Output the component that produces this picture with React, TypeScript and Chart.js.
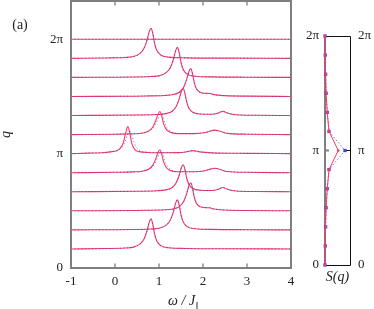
import { useEffect, useRef } from 'react';
import { Chart, registerables } from 'chart.js';

Chart.register(...registerables);

const PI = Math.PI;
const FONT = '"Liberation Serif", "Times New Roman", serif';

// ---------- data ----------
const omegaTicks = [-1, 0, 1, 2, 3, 4];
const qTickValues = [0, PI, 2 * PI];
const qTickLabels = ['0', 'π', '2π'];
// q = step * π/6
const qSteps = [0, 1, 2, 3, 4, 5, 6, 7, 8, 9, 10, 11, 12];

// spectra: [ω, intensity]
const specQ1 = [[-1, 0], [-0.2, 0.4], [0.22, 0.9], [0.42, 1.8], [0.57, 5], [0.66, 10], [0.73, 18.5], [0.78, 27], [0.82, 30], [0.86, 24.5], [0.9, 15], [0.95, 8], [1.04, 3.3], [1.22, 1.2], [1.6, 0.5], [2.5, 0.2], [4, 0]];
const specQ2 = [[-1, 0], [0.4, 0.4], [0.82, 0.9], [1.02, 1.8], [1.17, 5], [1.26, 10], [1.33, 18.5], [1.38, 27], [1.42, 30], [1.46, 24.5], [1.5, 15], [1.55, 8], [1.64, 3.3], [1.82, 1.2], [2.2, 0.5], [3, 0.2], [4, 0]];
const specQ3 = [[-1, 0], [0.7, 0.5], [1.12, 1], [1.32, 1.9], [1.47, 4.5], [1.56, 9.2], [1.63, 17.4], [1.68, 25], [1.72, 28], [1.76, 23], [1.8, 14], [1.85, 7.6], [1.94, 4], [2.05, 3.2], [2.15, 3], [2.25, 1.8], [2.5, 0.8], [3, 0.3], [4, 0]];
const specQ4 = [[-1, 0], [0.5, 0.5], [0.95, 1], [1.15, 1.9], [1.3, 4.3], [1.39, 9], [1.46, 16.7], [1.51, 24.3], [1.55, 27], [1.59, 22], [1.63, 13.5], [1.68, 7.3], [1.77, 3.2], [1.95, 1.5], [2.2, 1.2], [2.35, 2.5], [2.45, 4.3], [2.55, 2.6], [2.75, 0.8], [3.2, 0.3], [4, 0]];
const specQ5Red = [[-1, 0], [0, 0.4], [0.42, 0.8], [0.62, 1.5], [0.77, 3.7], [0.86, 7.6], [0.93, 14.3], [0.98, 20.7], [1.02, 23], [1.06, 18.9], [1.1, 11.5], [1.15, 6.2], [1.24, 2.5], [1.42, 1], [1.8, 1], [2.05, 2], [2.17, 3.6], [2.27, 4.5], [2.37, 3.5], [2.55, 1.2], [3, 0.4], [4, 0]];
const specQ5Blue = [[-1, 0], [0, 0.4], [0.42, 0.8], [0.62, 1.5], [0.78, 3.5], [0.88, 7.5], [0.96, 14], [1.01, 19.5], [1.05, 21], [1.09, 18], [1.13, 12], [1.19, 6.5], [1.28, 2.7], [1.45, 1.1], [1.8, 1], [2.05, 2], [2.17, 3.6], [2.27, 4.5], [2.37, 3.5], [2.55, 1.2], [3, 0.4], [4, 0]];
const specQ6Red = [[-1, 0], [-0.6, 0.5], [-0.3, 0.9], [-0.1, 1.8], [0.04, 3], [0.11, 5], [0.19, 11], [0.25, 22], [0.29, 27], [0.34, 20], [0.38, 10.5], [0.45, 4], [0.55, 2], [0.75, 1.2], [1.1, 0.9], [1.45, 1], [1.62, 1.8], [1.77, 3], [1.92, 1.8], [2.2, 0.8], [3, 0.3], [4, 0]];
const specQ6Blue = [[-1, 0], [-0.6, 0.5], [-0.3, 0.9], [-0.1, 1.8], [0.06, 3.2], [0.15, 6], [0.23, 12], [0.29, 19], [0.34, 22], [0.38, 19.5], [0.42, 13], [0.48, 7], [0.57, 3], [0.72, 1.5], [1.1, 1], [1.45, 1], [1.62, 1.8], [1.77, 3], [1.92, 1.8], [2.2, 0.8], [3, 0.3], [4, 0]];
const specFlat = [[-1, 0], [4, 0]];

// spectra for q-steps 1..12
const redSpectra = [specQ1, specQ2, specQ3, specQ4, specQ5Red, specQ6Red, specQ5Red, specQ4, specQ3, specQ2, specQ1, specFlat];
const blueSpectra = [specQ1, specQ2, specQ3, specQ4, specQ5Blue, specQ6Blue, specQ5Blue, specQ4, specQ3, specQ2, specQ1, specFlat];

// static structure factor S(q) at q-steps 0..12
const sBlue = [0, 0.01, 0.025, 0.045, 0.09, 0.16, 0.8, 0.16, 0.09, 0.045, 0.025, 0.01, 0];
const sRed = [0, 0.01, 0.025, 0.045, 0.09, 0.16, 0.53, 0.16, 0.09, 0.045, 0.025, 0.01, 0];

const INTENSITY_SCALE = 0.0275;
const RED = 'rgb(255,55,90)';
const BLUE = 'rgba(60,60,255,0.75)';

const mainPlugin = {
  id: 'mainDeco',
  afterDraw(chart: any) {
    const { ctx, chartArea: a, scales } = chart;
    ctx.save();
    ctx.strokeStyle = '#7f7f7f';
    ctx.lineWidth = 2;
    ctx.strokeRect(a.left, a.top, a.right - a.left, a.bottom - a.top);
    ctx.lineWidth = 1.3;
    ctx.beginPath();
    for (const v of omegaTicks.slice(1, -1)) {
      const x = scales.x.getPixelForValue(v);
      ctx.moveTo(x, a.top);
      ctx.lineTo(x, a.top + 4.5);
      ctx.moveTo(x, a.bottom);
      ctx.lineTo(x, a.bottom - 4.5);
    }
    ctx.stroke();

    ctx.fillStyle = '#222';
    ctx.textAlign = 'center';
    ctx.textBaseline = 'middle';
    ctx.font = `14px ${FONT}`;
    ctx.fillText('(a)', 20, 25);

    ctx.save();
    ctx.translate(6, (a.top + a.bottom) / 2);
    ctx.rotate(-PI / 2);
    ctx.font = `italic 14px ${FONT}`;
    ctx.fillText('q', 0, 0);
    ctx.restore();

    // x title ω/J‖
    ctx.textBaseline = 'alphabetic';
    ctx.textAlign = 'left';
    ctx.font = `italic 14px ${FONT}`;
    const t1 = 'ω / J';
    const w1 = ctx.measureText(t1).width;
    ctx.font = `10px ${FONT}`;
    const t2 = '‖';
    const w2 = ctx.measureText(t2).width;
    const cx = (a.left + a.right) / 2 + 2;
    const x0 = cx - (w1 + w2) / 2;
    ctx.font = `italic 14px ${FONT}`;
    ctx.fillText(t1, x0, 305);
    ctx.font = `10px ${FONT}`;
    ctx.fillText(t2, x0 + w1 + 0.5, 308.5);
    ctx.restore();
  },
};

const sidePlugin = {
  id: 'sideDeco',
  beforeDatasetsDraw(chart: any) {
    const { ctx, chartArea: a, scales } = chart;
    ctx.save();
    ctx.strokeStyle = '#111';
    ctx.lineWidth = 1;
    ctx.beginPath();
    ctx.moveTo(a.left, a.top + 0.5);
    ctx.lineTo(a.right + 0.5, a.top + 0.5);
    ctx.lineTo(a.right + 0.5, a.bottom + 0.5);
    ctx.lineTo(a.left, a.bottom + 0.5);
    ctx.stroke();
    const yPi = scales.y.getPixelForValue(PI);
    ctx.beginPath();
    ctx.moveTo(a.right - 4, yPi);
    ctx.lineTo(a.right, yPi);
    ctx.stroke();
    ctx.strokeStyle = '#7f7f7f';
    ctx.lineWidth = 2;
    ctx.beginPath();
    ctx.moveTo(a.left, a.top);
    ctx.lineTo(a.left, a.bottom + 1);
    ctx.moveTo(a.left, yPi);
    ctx.lineTo(a.left + 4, yPi);
    ctx.stroke();
    ctx.restore();
  },
  afterDraw(chart: any) {
    const { ctx, chartArea: a } = chart;
    ctx.save();
    ctx.fillStyle = '#222';
    ctx.textAlign = 'center';
    ctx.textBaseline = 'middle';
    ctx.font = `italic 14px ${FONT}`;
    ctx.fillText('S(q)', (a.left + a.right) / 2, 277);
    ctx.restore();
  },
};

const tickFont = { family: FONT, size: 13 };

export default function App() {
  const mainRef = useRef<HTMLCanvasElement>(null);
  const sideRef = useRef<HTMLCanvasElement>(null);

  useEffect(() => {
    const datasets: any[] = [];
    blueSpectra.forEach((spec, i) => {
      const base = (qSteps[i + 1] * PI) / 6;
      datasets.push({
        data: spec.map(([w, h]) => ({ x: w, y: base + h * INTENSITY_SCALE })),
        borderColor: BLUE,
        borderWidth: 1,
        borderDash: [1, 2.5],
        pointRadius: 0,
        cubicInterpolationMode: 'monotone',
      });
    });
    redSpectra.forEach((spec, i) => {
      const base = (qSteps[i + 1] * PI) / 6;
      datasets.push({
        data: spec.map(([w, h]) => ({ x: w, y: base + h * INTENSITY_SCALE })),
        borderColor: RED,
        borderWidth: 1.1,
        pointRadius: 0,
        cubicInterpolationMode: 'monotone',
      });
    });

    const main = new Chart(mainRef.current!, {
      type: 'line',
      data: { datasets },
      plugins: [mainPlugin],
      options: {
        animation: false,
        responsive: false,
        events: [],
        layout: { padding: { left: 0, top: 1, right: 83, bottom: 0 } },
        plugins: { legend: { display: false }, tooltip: { enabled: false } },
        scales: {
          x: {
            type: 'linear',
            min: -1,
            max: 4,
            grid: { display: false, drawTicks: false },
            border: { display: false },
            afterBuildTicks: (s: any) => {
              s.ticks = omegaTicks.map((v) => ({ value: v }));
            },
            ticks: {
              font: tickFont,
              color: '#222',
              padding: 6,
              maxRotation: 0,
              autoSkip: false,
              callback: (v: any) => String(v),
            },
            afterFit: (s: any) => {
              s.height = 41;
              s.paddingLeft = 0;
              s.paddingRight = 0;
            },
          },
          y: {
            type: 'linear',
            min: 0,
            max: 7.335,
            grid: { display: false, drawTicks: false },
            border: { display: false },
            afterBuildTicks: (s: any) => {
              s.ticks = qTickValues.map((v) => ({ value: v }));
            },
            ticks: {
              font: tickFont,
              color: '#222',
              padding: 8,
              autoSkip: false,
              callback: (_v: any, i: number) => qTickLabels[i],
            },
            afterFit: (s: any) => {
              s.width = 71;
              s.paddingTop = 0;
              s.paddingBottom = 0;
            },
          },
        },
      } as any,
    });

    const qAxis = (pos: 'left' | 'right', width: number, pad: number) => ({
      type: 'linear',
      position: pos,
      min: 0,
      max: 2 * PI,
      grid: { display: false, drawTicks: false },
      border: { display: false },
      afterBuildTicks: (s: any) => {
        s.ticks = qTickValues.map((v) => ({ value: v }));
      },
      ticks: {
        font: tickFont,
        color: '#222',
        padding: pad,
        autoSkip: false,
        callback: (_v: any, i: number) => qTickLabels[i],
      },
      afterFit: (s: any) => {
        s.width = width;
        s.paddingTop = 0;
        s.paddingBottom = 0;
      },
    });

    const side = new Chart(sideRef.current!, {
      type: 'line',
      data: {
        datasets: [
          {
            data: sRed.map((s, i) => ({ x: s, y: (qSteps[i] * PI) / 6 })),
            borderColor: RED,
            borderWidth: 1,
            pointRadius: 1.3,
            pointBackgroundColor: RED,
            pointBorderWidth: 0,
            clip: false,
            yAxisID: 'y',
          },
          {
            data: sBlue.map((s, i) => ({ x: s, y: (qSteps[i] * PI) / 6 })),
            borderColor: BLUE,
            borderWidth: 1,
            borderDash: [1.5, 2],
            pointStyle: 'rect',
            pointRadius: 2.3,
            pointBackgroundColor: 'rgb(60,60,255)',
            pointBorderWidth: 0,
            clip: false,
            yAxisID: 'y',
          },
        ],
      },
      plugins: [sidePlugin],
      options: {
        animation: false,
        responsive: false,
        events: [],
        layout: { padding: { left: 0, top: 36, right: 0, bottom: 44 } },
        plugins: { legend: { display: false }, tooltip: { enabled: false } },
        scales: {
          x: { type: 'linear', min: 0, max: 1, display: false },
          y: qAxis('left', 325, 6),
          y2: qAxis('right', 24, 8),
        },
      } as any,
    });

    return () => {
      main.destroy();
      side.destroy();
    };
  }, []);

  return (
    <div style={{ position: 'fixed', left: 0, top: 0, width: 374, height: 309, background: '#fff' }}>
      <canvas ref={mainRef} width={374} height={309} style={{ position: 'absolute', left: 0, top: 0 }} />
      <canvas ref={sideRef} width={374} height={309} style={{ position: 'absolute', left: 0, top: 0 }} />
    </div>
  );
}
